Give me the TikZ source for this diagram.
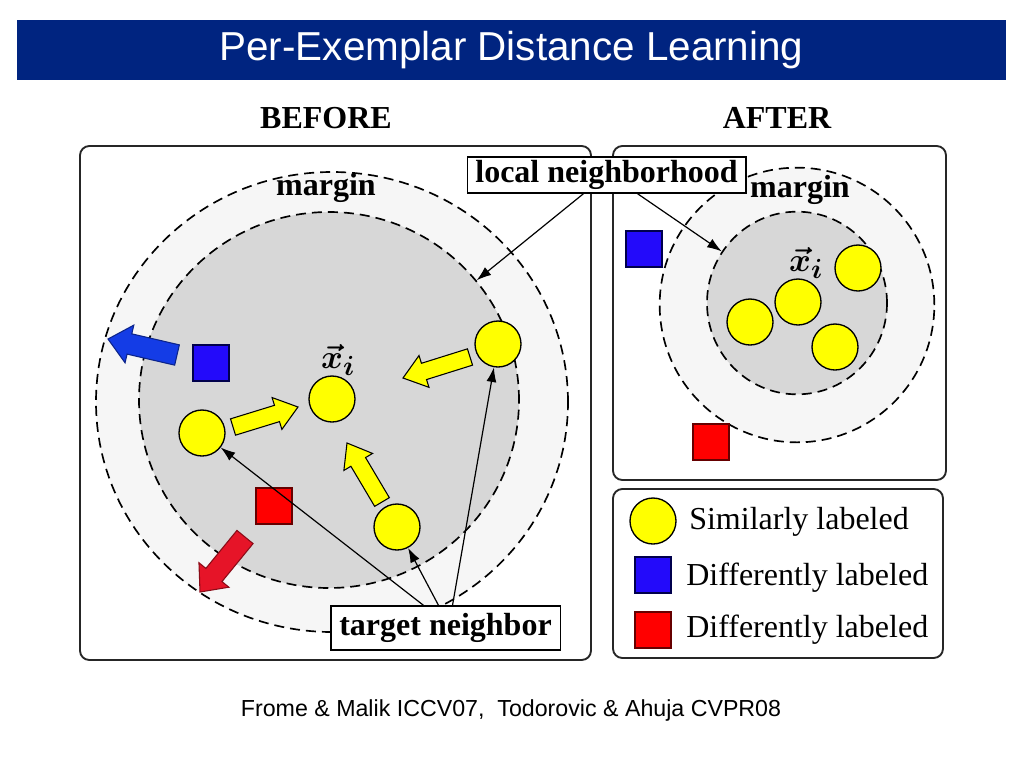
\documentclass[tikz,border=0pt]{standalone}
\usepackage{fontspec}
\setmainfont{Liberation Serif}
\newfontfamily\sansf{Liberation Sans}
\usepackage{amsmath,bm}
\usetikzlibrary{calc,arrows.meta,shapes.geometric}
\definecolor{navy}{RGB}{0,36,128}
\definecolor{outerg}{RGB}{246,246,246}
\definecolor{innerg}{RGB}{215,215,215}
\definecolor{myblue}{RGB}{35,10,250}
\definecolor{myred}{RGB}{255,0,0}
\definecolor{arrblue}{RGB}{20,60,230}
\definecolor{arrred}{RGB}{230,20,40}
\definecolor{myyellow}{RGB}{255,255,0}
\newcommand\blockarr[6]{% tail, tip, fill, draw, shaft half, head half
  \path ($(#2)!16.5pt!(#1)$) coordinate (P);
  \draw[line width=0.8pt, draw=#4, fill=#3, line join=miter]
    ($(#1)!#5!90:(#2)$) -- ($(P)!#5!-90:(#1)$) -- ($(P)!#6!-90:(#1)$) -- (#2)
    -- ($(P)!#6!90:(#1)$) -- ($(P)!#5!90:(#1)$) -- ($(#1)!#5!-90:(#2)$) -- cycle;
}
\begin{document}
\begin{tikzpicture}[x=0.75pt,y=-0.75pt,
  panel/.style={draw=black!85, line width=1.4pt, rounded corners=7pt},
  dashring/.style={ellipse, draw=black, dash pattern=on 7.5pt off 4.5pt, line width=1.25pt, inner sep=0pt},
  dot/.style={circle, draw=black, line width=1pt, fill=myyellow, minimum size=34.5pt, inner sep=0pt},
  sq/.style={rectangle, line width=1pt, minimum size=27pt, inner sep=0pt},
  lbl/.style={font=\bfseries\fontsize{24}{28}\selectfont, inner sep=0pt},
  boxlbl/.style={draw=black, line width=1pt, fill=white, font=\bfseries\fontsize{24}{28}\selectfont, inner sep=0pt, minimum height=27pt},
  leg/.style={font=\fontsize{24}{28}\selectfont, anchor=west, inner sep=0pt},
  thinarr/.style={line width=0.9pt, -{Latex[length=11pt,width=7.5pt]}},
  xlbl/.style={font=\fontsize{31}{34}\selectfont, inner sep=0pt}
]
\useasboundingbox (0,0) rectangle (1024,768);
\fill[white] (0,0) rectangle (1024,768);

% title
\node[fill=navy, minimum width=741.75pt, minimum height=45pt, inner sep=0pt,
      text=white, font=\sansf\fontsize{30.3}{34}\selectfont] (title) at (511.5,50) {Per-Exemplar Distance Learning};

\node[lbl] (before) at (326,118) {BEFORE};
\node[lbl] (after) at (777,118) {AFTER};

% panels
\draw[panel] (80,146) rectangle (591,660);
\draw[panel] (613,146) rectangle (946,480);
\draw[panel] (613,489) rectangle (943,658);

% left rings
\node[dashring, fill=outerg, minimum width=354pt, minimum height=345pt] (outerL) at (332,402) {};
\node[dashring, fill=innerg, minimum width=285pt, minimum height=282pt] (innerL) at (329,400) {};
\node[lbl] (marginL) at (326,188) {margin};

% right rings
\node[dashring, fill=outerg, minimum width=206pt, minimum height=206pt] (outerR) at (797,305) {};
\node[dashring, fill=innerg, minimum width=135pt, minimum height=137pt] (innerR) at (797,303) {};
\node[lbl] (marginR) at (800,190) {margin};

% left panel content
\node[sq, fill=myblue, draw=black!70!blue] (bsqL) at (211,363) {};
\node[sq, fill=myred, draw=black!60!red] (rsqL) at (274,506) {};

\coordinate (ba1) at (177,355); \coordinate (ba2) at (108,339);
\blockarr{ba1}{ba2}{arrblue}{black!40!arrblue}{7.8pt}{14.5pt}
\coordinate (ra1) at (245,537); \coordinate (ra2) at (200,592);
\blockarr{ra1}{ra2}{arrred}{black!40!arrred}{7.8pt}{14.5pt}

\coordinate (ya1) at (233,427); \coordinate (ya2) at (298,407);
\blockarr{ya1}{ya2}{myyellow}{black}{6.4pt}{12.5pt}
\coordinate (yb1) at (470,357); \coordinate (yb2) at (403,378);
\blockarr{yb1}{yb2}{myyellow}{black}{6.4pt}{12.5pt}
\coordinate (yc1) at (382,502); \coordinate (yc2) at (347,443);
\blockarr{yc1}{yc2}{myyellow}{black}{6.4pt}{12.5pt}

\node[dot] (xiL) at (332,399) {};
\node[dot] (cL1) at (202,433) {};
\node[dot] (cL2) at (498,344) {};
\node[dot] (cL3) at (397,527) {};
\node[xlbl] (xiLlab) at (338,360) {$\bm{\vec{x}_i}$};

% right panel content
\node[sq, fill=myblue, draw=black!70!blue] (bsqR) at (644,249) {};
\node[sq, fill=myred, draw=black!60!red] (rsqR) at (711,442) {};
\node[dot] (cR1) at (750,322) {};
\node[dot] (xiR) at (798,302) {};
\node[dot] (cR2) at (858,268) {};
\node[dot] (cR3) at (835,347) {};
\node[xlbl] (xiRlab) at (806,263) {$\bm{\vec{x}_i}$};

% labels with arrows
\node[boxlbl, minimum width=209pt] (ln) at (606.5,175) {local neighborhood};
\node[boxlbl, minimum width=172pt, minimum height=33pt] (tn) at (445.5,628) {target neighbor};

\draw[thinarr] ([xshift=-17.25pt]ln.south) -- (innerL);
\draw[thinarr] ([xshift=23.25pt]ln.south) -- (innerR);
\draw[thinarr] ([xshift=-16.5pt]tn.north) -- (cL1);
\draw[thinarr] ([xshift=-5.25pt]tn.north) -- (cL3);
\draw[thinarr] ([xshift=5.25pt]tn.north) -- (cL2);

% legend
\node[dot] (legdot) at (653,521) {};
\node[sq, fill=myblue, draw=black!70!blue] (legb) at (653,575) {};
\node[sq, fill=myred, draw=black!60!red] (legr) at (653,630) {};
\node[leg] (legt1) at (689,522) {Similarly labeled};
\node[leg] (legt2) at (686,578) {Differently labeled};
\node[leg] (legt3) at (686,630) {Differently labeled};

% footer
\node[font=\sansf\fontsize{17.4}{20}\selectfont, inner sep=0pt] (foot) at (511,710) {Frome \& Malik ICCV07,\ \ Todorovic \& Ahuja CVPR08};
\end{tikzpicture}
\end{document}
